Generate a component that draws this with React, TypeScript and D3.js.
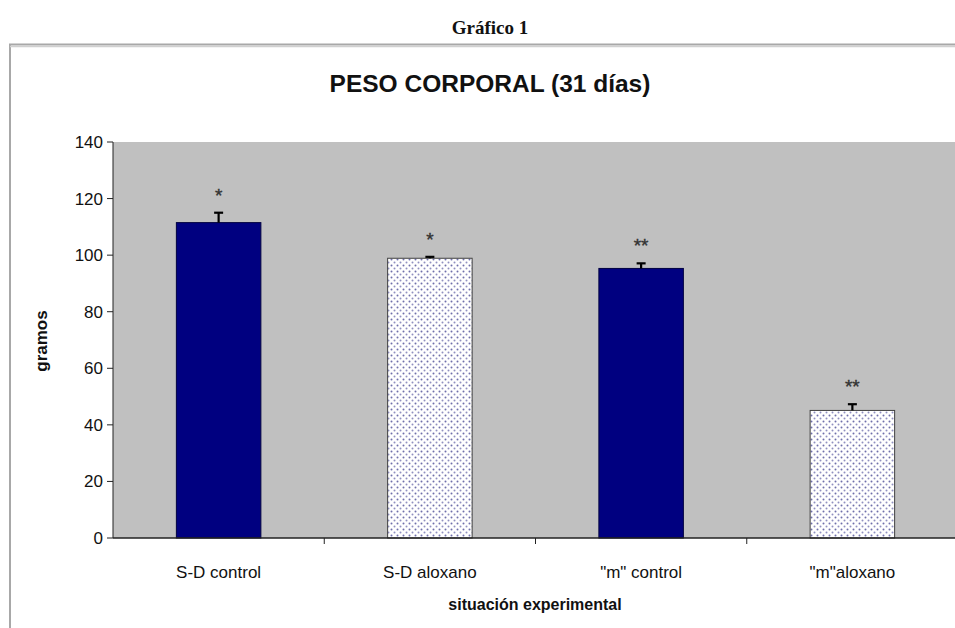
import React from "react";
import * as d3 from "d3";

const categories = ["S-D control", "S-D aloxano", "\"m\" control", "\"m\"aloxano"];
const values = [111.5, 98.9, 95.3, 45.1];
const errors = [3.5, 0.5, 1.8, 2.2];
const marks = ["*", "*", "**", "**"];
const patterned = [false, true, false, true];
const yTicks = [0, 20, 40, 60, 80, 100, 120, 140];

const W = 955;
const H = 628;

export default function App() {
  const x = d3.scaleBand<string>().domain(categories).range([113, 958]).padding(0);
  const y = d3.scaleLinear().domain([0, 140]).range([538, 142]);
  const step = x.step();
  const bw = step / 2.5;
  const font = "'Liberation Sans', Arial, sans-serif";

  return (
    <svg width={W} height={H} style={{ position: "absolute", left: 0, top: 0, background: "#fff" }}>
      <defs>
        <pattern id="dots" width="6" height="6" patternUnits="userSpaceOnUse">
          <rect width="6" height="6" fill="#ffffff" />
          <circle cx="1.5" cy="1.5" r="1" fill="#6f6fab" />
          <circle cx="4.5" cy="4.5" r="1" fill="#9090c0" />
        </pattern>
      </defs>
      <text x={490} y={34} textAnchor="middle" fontFamily="'Liberation Serif', 'Times New Roman', serif" fontWeight="bold" fontSize={19} fill="#111">
        Gráfico 1
      </text>
      {/* outer frame */}
      <rect x={10} y={44.5} width={W} height={H} fill="#fff" stroke="#a8a8a8" strokeWidth={2} />
      <line x1={10} y1={46.5} x2={W} y2={46.5} stroke="#d0d0d0" strokeWidth={1.5} />
      <text x={490} y={92} textAnchor="middle" fontFamily={font} fontWeight="bold" fontSize={24.5} fill="#111">
        PESO CORPORAL (31 días)
      </text>
      {/* plot area */}
      <rect x={113} y={y(140)} width={W - 113} height={y(0) - y(140)} fill="#c0c0c0" />
      {categories.map((c, i) => {
        const cx = (x(c) as number) + step / 2;
        const top = y(values[i]);
        const et = y(values[i] + errors[i]);
        return (
          <g key={c}>
            <rect
              x={cx - bw / 2}
              y={top}
              width={bw}
              height={y(0) - top}
              fill={patterned[i] ? "url(#dots)" : "#000080"}
              stroke={patterned[i] ? "#404040" : "#000040"}
              strokeWidth={1}
            />
            <line x1={cx} x2={cx} y1={top} y2={et} stroke="#000" strokeWidth={2.2} />
            <line x1={cx - 4.5} x2={cx + 4.5} y1={et} y2={et} stroke="#000" strokeWidth={2.2} />
            <text x={cx} y={et - 11} textAnchor="middle" fontFamily={font} fontSize={19} fill="#333" stroke="#333" strokeWidth={0.4}>
              {marks[i]}
            </text>
            <text x={cx} y={578} textAnchor="middle" fontFamily={font} fontSize={17} fill="#111">
              {c}
            </text>
          </g>
        );
      })}
      {/* y axis */}
      <line x1={113} x2={113} y1={y(140)} y2={y(0)} stroke="#222" strokeWidth={1} />
      {yTicks.map((t) => (
        <g key={t}>
          <line x1={107} x2={113} y1={y(t)} y2={y(t)} stroke="#222" strokeWidth={1} />
          <text x={103} y={y(t) + 6} textAnchor="end" fontFamily={font} fontSize={17} fill="#111">
            {t}
          </text>
        </g>
      ))}
      {/* x axis */}
      <line x1={113} x2={W} y1={y(0)} y2={y(0)} stroke="#222" strokeWidth={1.5} />
      {categories.map((c, i) =>
        i === 0 ? null : (
          <line key={"t" + c} x1={x(c) as number} x2={x(c) as number} y1={y(0)} y2={y(0) + 6} stroke="#222" strokeWidth={1} />
        )
      )}
      <text x={535} y={610} textAnchor="middle" fontFamily={font} fontWeight="bold" fontSize={16} fill="#111">
        situación experimental
      </text>
      <text
        transform={`translate(47, 341) rotate(-90)`}
        textAnchor="middle"
        fontFamily={font}
        fontWeight="bold"
        fontSize={17}
        fill="#111"
      >
        gramos
      </text>
    </svg>
  );
}
